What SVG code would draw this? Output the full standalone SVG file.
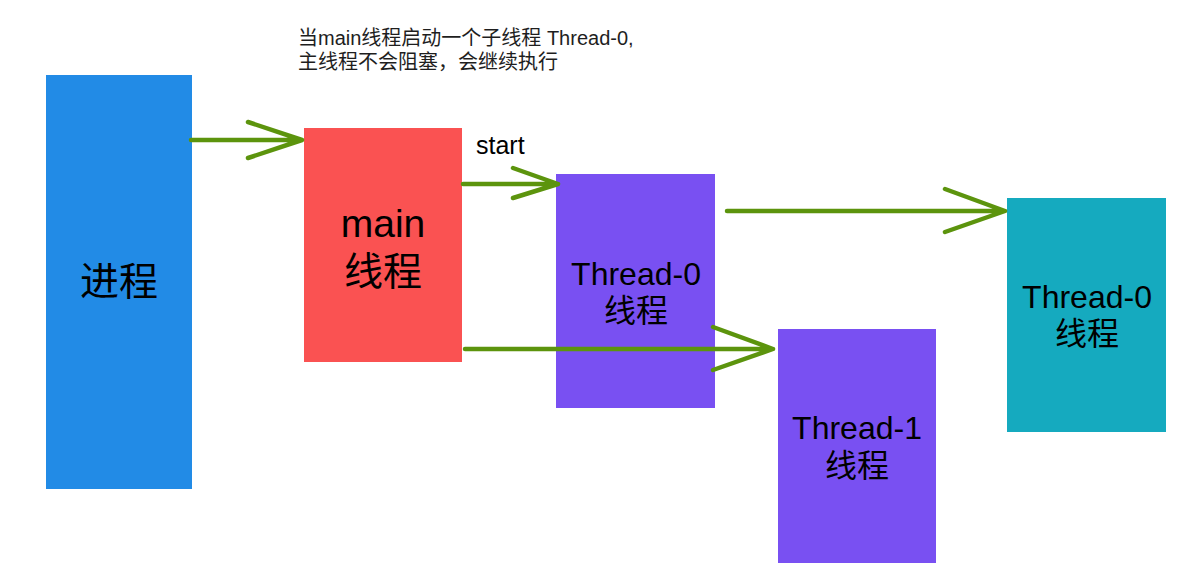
<svg xmlns="http://www.w3.org/2000/svg" width="1188" height="575" viewBox="0 0 1188 575">
<style>
text{font-family:"Liberation Sans","Noto Sans CJK SC",sans-serif;fill:#000;}
.c{text-anchor:middle;}
.big{font-size:39px;}
.mid{font-size:32px;}
.note{font-size:20px;fill:#1e1e1e;}
.arr{fill:none;stroke:#5c940d;stroke-width:4.5;stroke-linecap:round;stroke-linejoin:round;}
</style>
<rect width="1188" height="575" fill="#fff"/>
<g id="process">
<rect x="46" y="75" width="146" height="414" fill="#228be6"/>
<text class="c big" x="119" y="295">进程</text>
</g>
<g id="main">
<rect x="304" y="128" width="158" height="234" fill="#fa5252"/>
<text class="c big" x="383" y="237">main</text>
<text class="c big" x="383" y="285">线程</text>
</g>
<g id="thread0a">
<rect x="556" y="174" width="159" height="234" fill="#7950f2"/>
<text class="c mid" x="636" y="285">Thread-0</text>
<text class="c mid" x="636" y="322">线程</text>
</g>
<g id="thread1">
<rect x="778" y="329" width="158" height="234" fill="#7950f2"/>
<text class="c mid" x="857" y="439">Thread-1</text>
<text class="c mid" x="857" y="477">线程</text>
</g>
<g id="thread0b">
<rect x="1007" y="198" width="159" height="234" fill="#15aabf"/>
<text class="c mid" x="1087" y="308">Thread-0</text>
<text class="c mid" x="1087" y="345">线程</text>
</g>
<g id="labels">
<text class="note" x="298" y="45">当main线程启动一个子线程 Thread-0,</text>
<text class="note" x="298" y="69">主线程不会阻塞，会继续执行</text>
<text x="476" y="154" font-size="25">start</text>
</g>
<g id="connectors">
<path class="arr" d="M191 140H302M248 122L302 140L248 158"/>
<path class="arr" d="M463 184H558M513 168L558 184L513 198"/>
<path class="arr" d="M727 211H1005M945 189L1005 211L945 232"/>
<path class="arr" d="M465 349H773M713 327L773 349L713 370"/>
</g>
</svg>
